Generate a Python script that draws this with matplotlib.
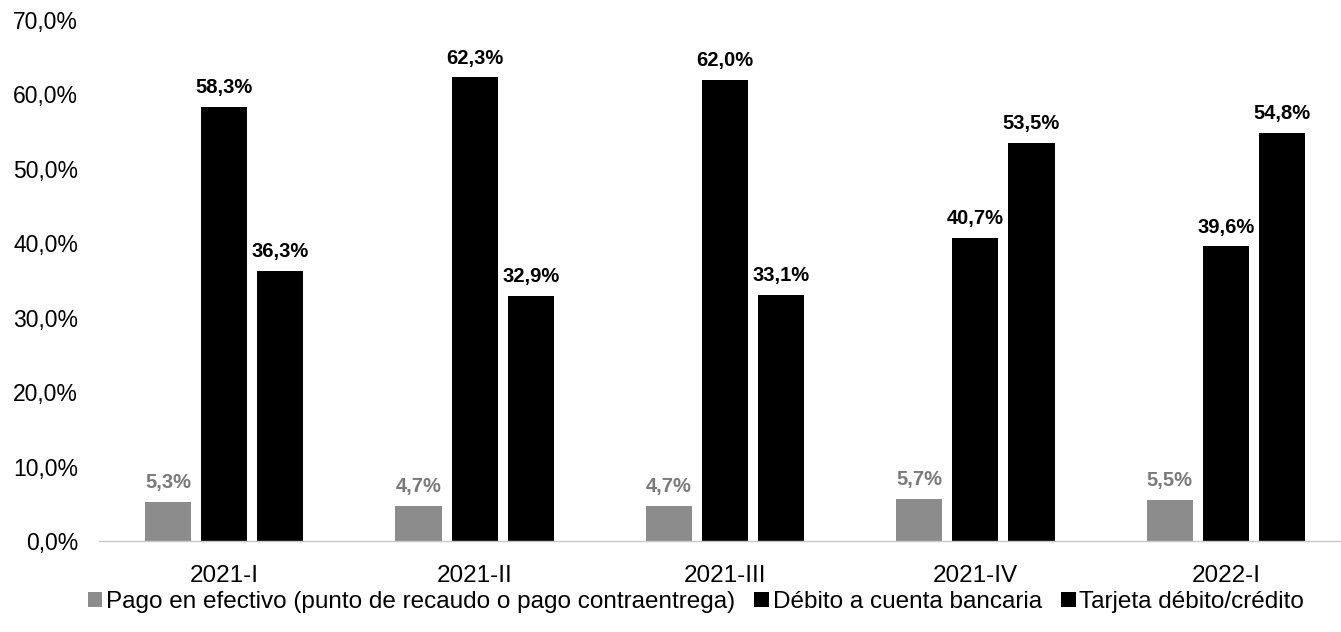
import matplotlib.pyplot as plt
import numpy as np

plt.rcParams['font.family'] = ['Liberation Sans', 'DejaVu Sans']

# Data
periods = ['2021-I', '2021-II', '2021-III', '2021-IV', '2022-I']
series_names = ['Pago en efectivo (punto de recaudo o pago contraentrega)',
                'Débito a cuenta bancaria',
                'Tarjeta débito/crédito']
efectivo = [5.3, 4.7, 4.7, 5.7, 5.5]
debito = [58.3, 62.3, 62.0, 40.7, 39.6]
tarjeta = [36.3, 32.9, 33.1, 53.5, 54.8]
y_ticks = [0, 10, 20, 30, 40, 50, 60, 70]

colors = ['#8c8c8c', '#000000', '#000000']
label_colors = ['#7a7a7a', '#000000', '#000000']

fig = plt.figure(figsize=(13.41, 6.32), dpi=100)
ax = fig.add_axes([99 / 1341, 1 - 541 / 632, 1252 / 1341, 521 / 632])

x = np.arange(len(periods))
width = 0.184
offsets = [-0.224, 0, 0.224]

for vals, off, c, lc, name in zip([efectivo, debito, tarjeta], offsets,
                                  colors, label_colors, series_names):
    bars = ax.bar(x + off, vals, width, color=c, label=name)
    for b, v in zip(bars, vals):
        ax.annotate(f'{v:.1f}%'.replace('.', ','),
                    (b.get_x() + b.get_width() / 2, v),
                    xytext=(0, 7), textcoords='offset points',
                    ha='center', va='bottom', fontsize=14.5,
                    fontweight='bold', color=lc)

ax.set_xlim(-0.5, len(periods) - 0.5)
ax.set_ylim(0, 70)
ax.set_yticks(y_ticks)
ax.set_yticklabels([f'{t:.1f}%'.replace('.', ',') for t in y_ticks], fontsize=16.5)
ax.set_xticks(x)
ax.set_xticklabels(periods, fontsize=17.5)
ax.tick_params(axis='y', length=0, pad=15)
ax.tick_params(axis='x', length=0, pad=17)

for s in ['top', 'right', 'left']:
    ax.spines[s].set_visible(False)
ax.spines['bottom'].set_color('#c8c8c8')
ax.spines['bottom'].set_linewidth(1)

fig.legend(loc='center left', bbox_to_anchor=(0.058, 0.047), ncol=3,
           frameon=False, fontsize=17.5, handlelength=0.6, handleheight=0.6,
           handletextpad=0.15, columnspacing=0.8, borderaxespad=0)

fig.savefig('out.png', dpi=100)
